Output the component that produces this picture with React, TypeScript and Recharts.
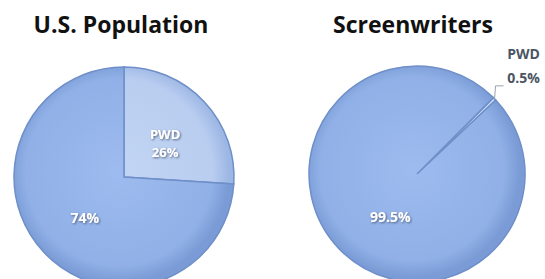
import React from 'react';
import { PieChart, Pie, Cell } from 'recharts';

// slice names, shared by both charts
const sliceNames = ['PWD', 'Others'];
// share of people with disabilities (%)
const usPopulation = [26, 74];
const screenwriters = [0.5, 99.5];
const chartTitles = ['U.S. Population', 'Screenwriters'];

const mainBlue = '#90b0e7';
const lightBlue = '#b9cdf0';
const labelFont = '"Open Sans", sans-serif';

const toRows = (values: number[]) => values.map((v, i) => ({ name: sliceNames[i], value: v }));

const RADIAN = Math.PI / 180;

interface LabelTweak {
  inner: number; // radius factor for inside labels
  shiftX: number;
  shiftY: number;
}

const makeLabel = (tweak: LabelTweak, outsidePwd: boolean) => (props: any) => {
  const { cx, cy, midAngle, outerRadius, name, value, index } = props;
  const shadow = 'url(#txtShadow)';
  if (name === 'PWD' && outsidePwd) {
    // leader line out of the thin slice, then a label to the right
    const ex = cx + outerRadius * Math.cos(-midAngle * RADIAN);
    const ey = cy + outerRadius * Math.sin(-midAngle * RADIAN);
    return (
      <g key={`lbl-${index}`}>
        <polyline points={`${ex},${ey} ${ex + 1},${ey - 13} ${ex + 9},${ey - 13}`} fill="none" stroke="#9aa3ad" strokeWidth={1} />
        <text x={ex + 29} y={ey - 40} textAnchor="middle" fill="#4b5563" fontFamily={labelFont} fontWeight={700} fontSize={14}>
          {name}
        </text>
        <text x={ex + 29} y={ey - 16} textAnchor="middle" fill="#4b5563" fontFamily={labelFont} fontWeight={700} fontSize={14}>
          {`${value}%`}
        </text>
      </g>
    );
  }
  const r = outerRadius * tweak.inner;
  const x = cx + r * Math.cos(-midAngle * RADIAN) + (name === 'PWD' ? 1 : tweak.shiftX);
  const y = cy + r * Math.sin(-midAngle * RADIAN) + (name === 'PWD' ? 4 : tweak.shiftY);
  if (name === 'PWD') {
    return (
      <g key={`lbl-${index}`} filter={shadow}>
        <text x={x} y={y - 4} textAnchor="middle" fill="#ffffff" fontFamily={labelFont} fontWeight={700} fontSize={13}>
          {name}
        </text>
        <text x={x} y={y + 14} textAnchor="middle" fill="#ffffff" fontFamily={labelFont} fontWeight={700} fontSize={13}>
          {`${value}%`}
        </text>
      </g>
    );
  }
  return (
    <text key={`lbl-${index}`} filter={shadow} x={x} y={y} dy={5} textAnchor="middle" fill="#ffffff" fontFamily={labelFont} fontWeight={700} fontSize={14}>
      {`${value}%`}
    </text>
  );
};

const Gradients = () => (
  <defs>
    <radialGradient id="mainLeft" gradientUnits="userSpaceOnUse" cx={119} cy={172} r={110}>
      <stop offset="0%" stopColor="#9dbbee" />
      <stop offset="85%" stopColor={mainBlue} />
      <stop offset="100%" stopColor="#7b9bd6" />
    </radialGradient>
    <radialGradient id="lightLeft" gradientUnits="userSpaceOnUse" cx={119} cy={172} r={110}>
      <stop offset="0%" stopColor="#c2d5f3" />
      <stop offset="85%" stopColor={lightBlue} />
      <stop offset="100%" stopColor="#9db7e4" />
    </radialGradient>
    <radialGradient id="mainRight" gradientUnits="userSpaceOnUse" cx={412} cy={169} r={108}>
      <stop offset="0%" stopColor="#9dbbee" />
      <stop offset="85%" stopColor={mainBlue} />
      <stop offset="100%" stopColor="#7b9bd6" />
    </radialGradient>
    <filter id="txtShadow" x="-20%" y="-20%" width="140%" height="160%">
      <feDropShadow dx="1" dy="1" stdDeviation="0.8" floodColor="#3a4a66" floodOpacity="0.8" />
    </filter>
  </defs>
);

const App: React.FC = () => {
  const left = toRows(usPopulation);
  const right = toRows(screenwriters);

  return (
    <div style={{ position: 'absolute', left: 0, top: 0, width: 545, height: 279, background: '#ffffff', overflow: 'hidden' }}>
      <div style={{ position: 'absolute', left: 0, top: 8, width: 242, textAlign: 'center', fontFamily: labelFont, fontWeight: 700, fontSize: 23, color: '#111111' }}>
        {chartTitles[0]}
      </div>
      <div style={{ position: 'absolute', left: 293, top: 8, width: 240, textAlign: 'center', fontFamily: labelFont, fontWeight: 700, fontSize: 23, color: '#111111' }}>
        {chartTitles[1]}
      </div>
      <PieChart width={545} height={279} style={{ position: 'absolute', left: 0, top: 0 }}>
        <Gradients />
        <Pie
          data={left}
          dataKey="value"
          nameKey="name"
          cx={119}
          cy={172}
          outerRadius={110}
          startAngle={90}
          endAngle={-270}
          stroke="#6f8fc9"
          strokeWidth={1.5}
          labelLine={false}
          label={makeLabel({ inner: 0.5, shiftX: 1, shiftY: 3 }, false)}
          isAnimationActive={false}
        >
          <Cell fill="url(#lightLeft)" />
          <Cell fill="url(#mainLeft)" />
        </Pie>
        <Pie
          data={right}
          dataKey="value"
          nameKey="name"
          cx={412}
          cy={169}
          outerRadius={108}
          startAngle={45}
          endAngle={-315}
          stroke="#6f8fc9"
          strokeWidth={1.5}
          labelLine={false}
          label={makeLabel({ inner: 0.5, shiftX: 12, shiftY: 5 }, true)}
          isAnimationActive={false}
        >
          <Cell fill="#c9dbf6" />
          <Cell fill="url(#mainRight)" />
        </Pie>
      </PieChart>
    </div>
  );
};

export default App;
